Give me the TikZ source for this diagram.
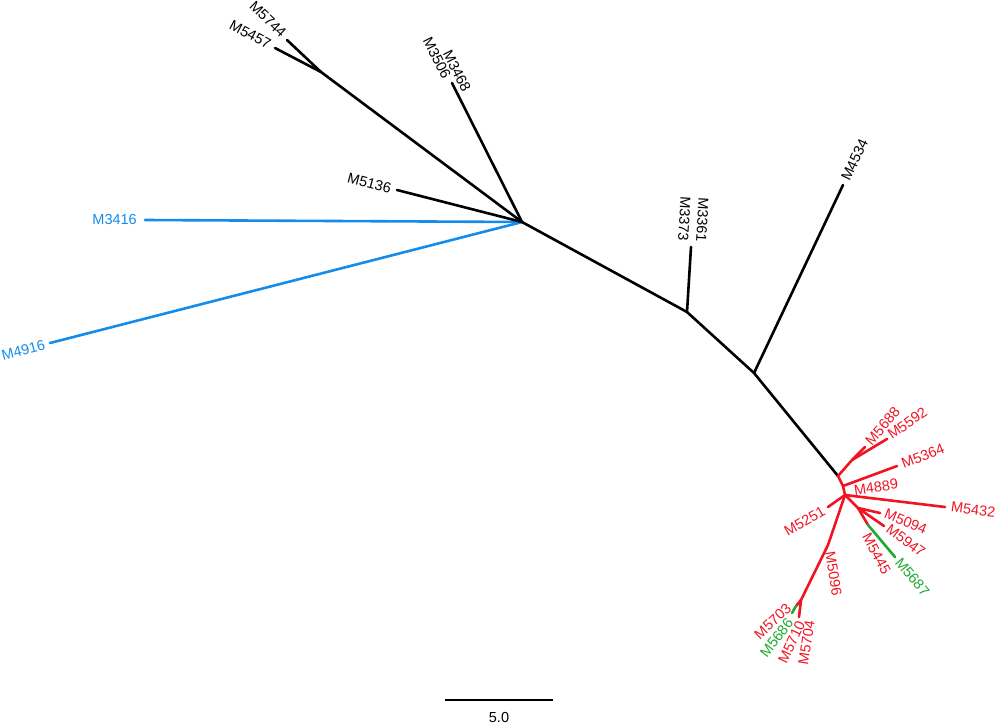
\documentclass[tikz,border=0pt]{standalone}
\usepackage{fontspec}
\setmainfont{Liberation Sans}
\usepackage{tikz}
\definecolor{cladeBlue}{RGB}{20,140,235}
\definecolor{cladeRed}{RGB}{240,20,35}
\definecolor{cladeGreen}{RGB}{30,170,50}
\tikzstyle{twig} = [line width=2.6pt, line cap=round, line join=round, draw=black]
\tikzstyle{blueTwig} = [twig, draw=cladeBlue]
\tikzstyle{redTwig} = [twig, draw=cladeRed]
\tikzstyle{greenTwig} = [twig, draw=cladeGreen]
\tikzstyle{taxon} = [font={\fontsize{14.5}{16}\selectfont}, inner sep=0pt]
\tikzstyle{blueTaxon} = [taxon, text=cladeBlue]
\tikzstyle{redTaxon} = [taxon, text=cladeRed]
\tikzstyle{greenTaxon} = [taxon, text=cladeGreen]

\begin{document}
\begin{tikzpicture}[x=1pt, y=-1pt]
            \useasboundingbox (0,0) rectangle (1000,725);
            % internal nodes
            \coordinate (hub) at (522,222);
            \coordinate (n57) at (321,72);
            \coordinate (nB) at (687,312);
            \coordinate (nC) at (754,373);
            \coordinate (nD) at (838,476);
            \coordinate (nP) at (852,460);
            \coordinate (nF) at (843,486);
            \coordinate (nE) at (845,495);
            \coordinate (nG) at (828,545);
            \coordinate (nH) at (801,600);
            \coordinate (nJ) at (796,606);
            \coordinate (nL) at (858,508);
            \coordinate (nO) at (868,525);
            % tips
            \coordinate (tM3416) at (145,220);
            \coordinate (tM4916) at (50,343);
            \coordinate (tM5136) at (397,190);
            \coordinate (tM5744) at (287,40);
            \coordinate (tM5457) at (275,48);
            \coordinate (tM35) at (452,83);
            \coordinate (tM33) at (691,247);
            \coordinate (tM4534) at (843,185);
            \coordinate (tM5688) at (865,447);
            \coordinate (tM5592) at (887,439);
            \coordinate (tM5364) at (897,466);
            \coordinate (tM5432) at (945,507);
            \coordinate (tM5251) at (828,507);
            \coordinate (tM5686) at (792,613);
            \coordinate (tM5710) at (799,617);
            \coordinate (tM5094) at (880,513);
            \coordinate (tM5947) at (884,526);
            \coordinate (tM5687) at (895,557);
            % labels
            \node [blueTaxon, anchor=east] (M3416) at (137,220) {M3416};
            \node [blueTaxon, anchor=east, rotate=14.4] (M4916) at (45,345) {M4916};
            \node [taxon, anchor=east, rotate=-14.4] (M5136) at (391,189) {M5136};
            \node [taxon, anchor=east, rotate=-28] (M5457) at (270,45) {M5457};
            \node [taxon, anchor=east, rotate=-44] (M5744) at (284,35) {M5744};
            \node [taxon, anchor=east, rotate=-63.3] (M3506) at (447,78) {M3506};
            \node [taxon, anchor=east, rotate=-63.3] (M3468) at (467,91) {M3468};
            \node [taxon, anchor=east, rotate=-93.5] (M3373) at (683,241) {M3373};
            \node [taxon, anchor=east, rotate=-93.5] (M3361) at (701,242) {M3361};
            \node [taxon, anchor=west, rotate=64.7] (M4534) at (845,180) {M4534};
            \node [redTaxon, anchor=west, rotate=49] (M5688) at (868,443) {M5688};
            \node [redTaxon, anchor=west, rotate=35] (M5592) at (889,436) {M5592};
            \node [redTaxon, anchor=west, rotate=21] (M5364) at (902,464) {M5364};
            \node [redTaxon, rotate=8] (M4889) at (876,487) {M4889};
            \node [redTaxon, anchor=west, rotate=-7] (M5432) at (951,507) {M5432};
            \node [redTaxon, anchor=east, rotate=30] (M5251) at (824,510) {M5251};
            \node [redTaxon, anchor=west, rotate=-22] (M5094) at (885,513) {M5094};
            \node [redTaxon, anchor=west, rotate=-37] (M5947) at (888,527) {M5947};
            \node [redTaxon, anchor=west, rotate=-62] (M5445) at (866,534) {M5445};
            \node [greenTaxon, anchor=west, rotate=-50] (M5687) at (898,560) {M5687};
            \node [redTaxon, anchor=west, rotate=-81] (M5096) at (830,552) {M5096};
            \node [redTaxon, anchor=east, rotate=43] (M5703) at (789,606) {M5703};
            \node [greenTaxon, anchor=east, rotate=53] (M5686) at (790,620) {M5686};
            \node [redTaxon, anchor=east, rotate=65] (M5710) at (801,622) {M5710};
            \node [redTaxon, anchor=east, rotate=81] (M5704) at (810,621) {M5704};
            % branches
            \draw [blueTwig] (hub) -- (tM3416);
            \draw [blueTwig] (hub) -- (tM4916);
            \draw [twig] (hub) -- (tM5136);
            \draw [twig] (hub) -- (n57);
            \draw [twig] (n57) -- (tM5744);
            \draw [twig] (n57) -- (tM5457);
            \draw [twig] (hub) -- (tM35);
            \draw [twig] (hub) -- (nB);
            \draw [twig] (nB) -- (tM33);
            \draw [twig] (nB) -- (nC);
            \draw [twig] (nC) -- (tM4534);
            \draw [twig] (nC) -- (nD);
            \draw [redTwig] (nD) -- (nP);
            \draw [redTwig] (nP) -- (tM5688);
            \draw [redTwig] (nP) -- (tM5592);
            \draw [redTwig] (nD) -- (nF) -- (nE);
            \draw [redTwig] (nF) -- (tM5364);
            \draw [redTwig] (nE) -- (tM5432);
            \draw [redTwig] (nE) -- (tM5251);
            \draw [redTwig] (nE) -- (nG) -- (nH);
            \draw [redTwig] (nH) -- (nJ);
            \draw [greenTwig] (nJ) -- (tM5686);
            \draw [redTwig] (nH) -- (tM5710);
            \draw [redTwig] (nE) -- (nL);
            \draw [redTwig] (nL) -- (tM5094);
            \draw [redTwig] (nL) -- (tM5947);
            \draw [redTwig] (nL) -- (nO);
            \draw [greenTwig] (nO) -- (tM5687);
            % scale bar
            \coordinate (barL) at (445,700);
            \coordinate (barR) at (553,700);
            \draw [line width=1.8pt] (barL) -- (barR);
            \node [taxon] (barText) at (499,717) {5.0};
        \end{tikzpicture}
\end{document}
